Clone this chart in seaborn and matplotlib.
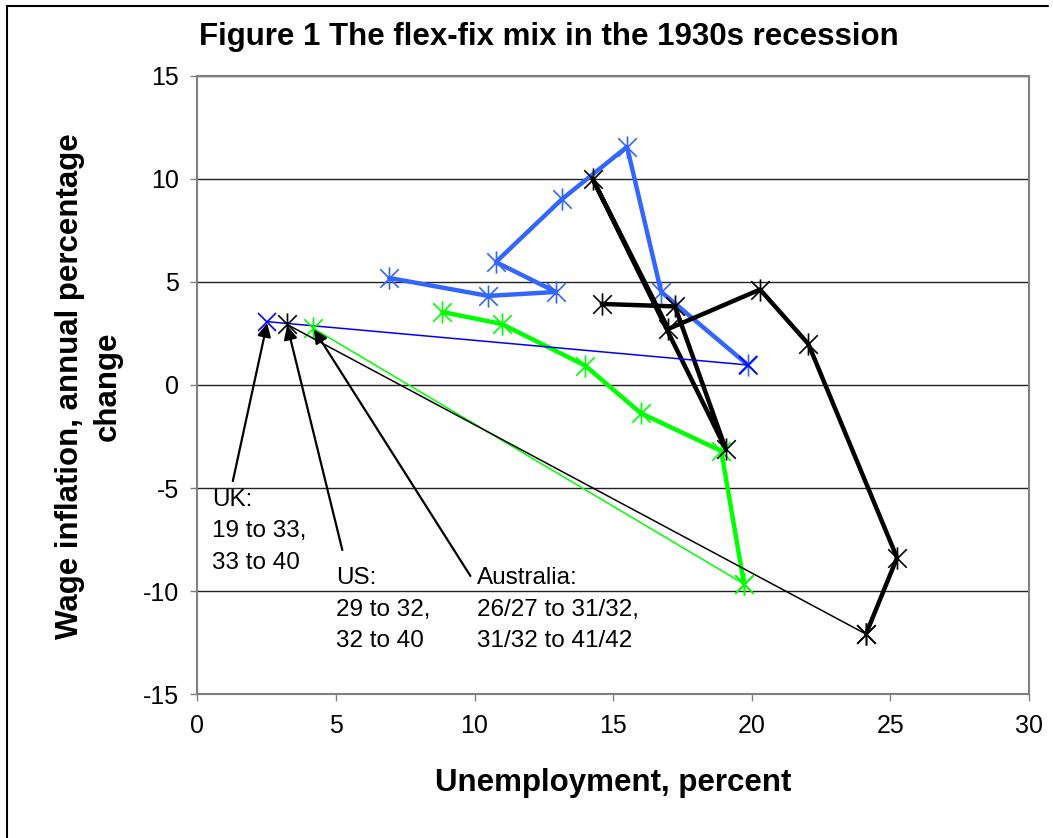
import pandas as pd
import matplotlib.pyplot as plt
import seaborn as sns
from matplotlib.path import Path
from matplotlib.lines import Line2D

# UK: thin step 19 to 33, thick path 33 to 40
uk_thin_x = [2.53, 19.86]
uk_thin_y = [3.07, 0.97]
uk_x = [19.86, 16.73, 15.5, 13.16, 10.77, 12.94, 10.49, 6.92]
uk_y = [0.97, 4.52, 11.55, 9.02, 5.96, 4.51, 4.32, 5.19]

# US: thin step 29 to 32, thick path 32 to 40
us_thin_x = [3.23, 24.12]
us_thin_y = [2.94, -12.08]
us_x = [24.12, 25.24, 22.04, 20.30, 16.99, 14.26, 19.06, 17.23, 14.59]
us_y = [-12.08, -8.38, 1.99, 4.63, 2.72, 9.99, -3.1, 3.81, 3.93]

# Australia: thin step 26/27 to 31/32, thick path 31/32 to 41/42
au_thin_x = [4.18, 19.72]
au_thin_y = [2.75, -9.65]
au_x = [19.72, 18.9, 16.0, 13.99, 10.98, 8.84]
au_y = [-9.65, -3.2, -1.37, 0.94, 2.96, 3.54]

labels = ["UK:\n19 to 33,\n33 to 40",
          "US:\n29 to 32,\n32 to 40",
          "Australia:\n26/27 to 31/32,\n31/32 to 41/42"]

sns.set_style("white")
plt.rcParams['font.family'] = ['Liberation Sans', 'DejaVu Sans']
plt.rcParams['axes.unicode_minus'] = False
plt.rcParams['text.color'] = 'black'

# excel style star marker: an X with a vertical bar
star = Path([(-1, -1), (1, 1), (-1, 1), (1, -1), (0, -1.2), (0, 1.2)],
            [Path.MOVETO, Path.LINETO, Path.MOVETO, Path.LINETO,
             Path.MOVETO, Path.LINETO])

fig = plt.figure(figsize=(10.53, 8.38), dpi=100)
ax = fig.add_axes([0.1874, 0.1715, 0.7898, 0.7382])


def draw(x, y, color, lw, marker=star, ms=16):
    df = pd.DataFrame({'x': x, 'y': y})
    sns.lineplot(data=df, x='x', y='y', sort=False, estimator=None, ax=ax,
                 color=color, lw=lw, marker=marker, markersize=ms,
                 markeredgecolor=color, markeredgewidth=1.2)


draw(uk_x, uk_y, '#3366ff', 3.2)
draw(au_x, au_y, '#00ff00', 3.2)
draw(us_x, us_y, 'black', 3.2)
draw(uk_thin_x, uk_thin_y, '#0000ff', 1.1, marker='x', ms=13)
draw(au_thin_x, au_thin_y, '#00ff00', 1.1)
draw(us_thin_x, us_thin_y, 'black', 1.1)

ax.set_xlim(0, 30)
ax.set_ylim(-15, 15)
ax.set_xticks(range(0, 31, 5))
ax.set_yticks(range(-15, 16, 5))
ax.set_xlabel('')
ax.set_ylabel('')
ax.grid(axis='y', color='#222222', lw=1)
ax.grid(axis='x', visible=False)
for s in ax.spines.values():
    s.set_color('#808080')
    s.set_linewidth(1.5)
ax.tick_params(axis='both', length=5, width=1, color='#808080',
               labelsize=18, labelcolor='black', direction='out')
ax.tick_params(axis='x', pad=9, bottom=True)
ax.tick_params(axis='y', pad=8, left=True)

# annotations with arrows to the starting points
starts = [(uk_thin_x[0], uk_thin_y[0]), (us_thin_x[0], us_thin_y[0]),
          (au_thin_x[0], au_thin_y[0])]
tails = [(1.28, -4.66), (5.23, -8.0), (9.85, -9.26)]
text_pos = [(0.53, -5.05), (4.99, -8.85), (10.08, -8.85)]
for lab, st, tl, tp in zip(labels, starts, tails, text_pos):
    ax.annotate('', xy=st, xytext=tl,
                arrowprops=dict(arrowstyle='-|>', color='black', lw=1.6,
                                mutation_scale=20, shrinkA=0, shrinkB=1))
    ax.text(tp[0], tp[1], lab, ha='left', va='top', fontsize=17.5,
            linespacing=1.55)

fig.text(548.5 / 1053, 1 - 37 / 838,
         'Figure 1 The flex-fix mix in the 1930s recession',
         ha='center', va='center', fontsize=22.5, fontweight='bold')
fig.text(613 / 1053, 1 - 783 / 838, 'Unemployment, percent',
         ha='center', va='center', fontsize=22.5, fontweight='bold')
fig.text(89 / 1053, 1 - 386 / 838,
         'Wage inflation, annual percentage\nchange',
         ha='center', va='center', rotation=90, fontsize=22.5,
         fontweight='bold', linespacing=1.35)

# outer chart frame (left and top edges visible)
fig.add_artist(Line2D([7 / 1053, 7 / 1053], [0, 1 - 6 / 838],
                      transform=fig.transFigure, color='black', lw=1.5))
fig.add_artist(Line2D([7 / 1053, 1048 / 1053], [1 - 6 / 838, 1 - 6 / 838],
                      transform=fig.transFigure, color='black', lw=1.5))

fig.savefig('out.png', dpi=100)
